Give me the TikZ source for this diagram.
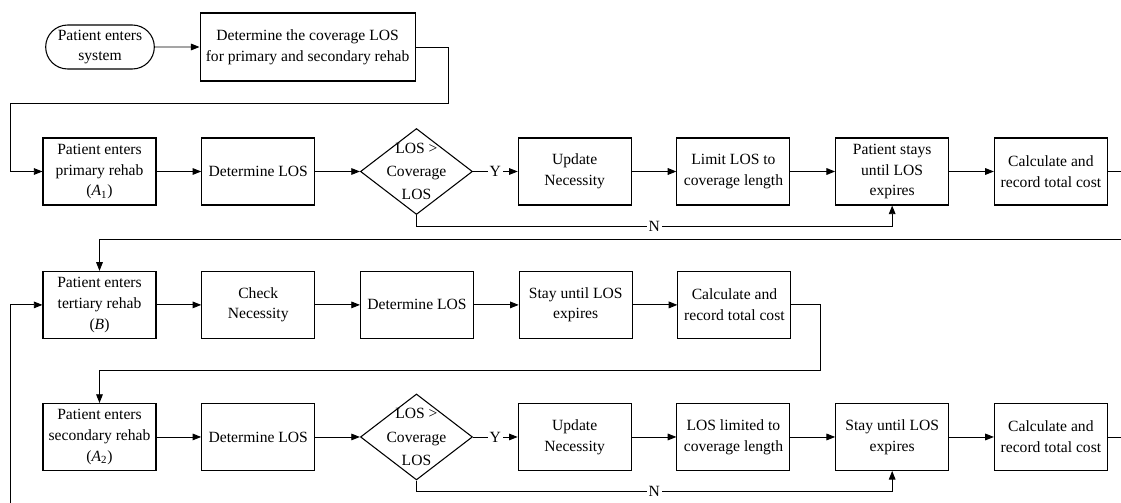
\documentclass[tikz,border=0pt]{standalone}
\usepackage{fontspec}
\setmainfont{Liberation Serif}
\usetikzlibrary{arrows.meta,positioning,shapes.geometric,shapes.misc}

\begin{document}
\begin{tikzpicture}[x=0.75pt,y=-0.75pt,
    node distance=33.5pt,
    font=\fontsize{11.7}{15.5}\selectfont,
    every node/.style={align=center},
    box/.style={rectangle,draw,line width=0.8pt,minimum width=84.75pt,minimum height=50.25pt,inner sep=2pt},
    term/.style={rounded rectangle,draw,line width=0.8pt,minimum width=85.5pt,minimum height=33pt,inner sep=2pt},
    decision/.style={diamond,draw,line width=0.8pt,minimum width=84pt,minimum height=64.5pt,inner sep=0pt},
    dtext/.style={font=\fontsize{11.7}{17.5}\selectfont,inner sep=0pt},
    lbl/.style={fill=white,inner sep=1.5pt},
    flow/.style={->,line width=0.7pt},
    >={Triangle[length=6.5pt,width=5pt]}]
\path[use as bounding box,clip] (0,0) rectangle (1121,503);

% entry
\node[term] (start) at (100,47) {Patient enters\\system};
\node[box,right=of start,minimum width=161.25pt,minimum height=51pt] (cov) {Determine the coverage LOS\\for primary and secondary rehab};

% primary rehab
\node[box] (pA1) at (99.5,171.5) {Patient enters\\primary rehab\\(\textit{A}\textsubscript{1})};
\node[box,right=of pA1] (detA1) {Determine LOS};
\node[decision,right=of detA1] (decA1) {};
\node[dtext] (txtA1) at (decA1) {LOS >\\Coverage\\LOS};
\node[box,right=of decA1] (updA1) {Update\\Necessity};
\node[box,right=of updA1] (limA1) {Limit LOS to\\coverage length};
\node[box,right=of limA1] (stayA1) {Patient stays\\until LOS\\expires};
\node[box,right=of stayA1] (calcA1) {Calculate and\\record total cost};

% tertiary rehab
\node[box,below=49pt of pA1] (pB) {Patient enters\\tertiary rehab\\(\textit{B})};
\node[box,right=of pB] (chkB) {Check\\Necessity};
\node[box,right=of chkB] (detB) {Determine LOS};
\node[box,right=of detB] (stayB) {Stay until LOS\\expires};
\node[box,right=of stayB] (calcB) {Calculate and\\record total cost};

% secondary rehab
\node[box,below=48pt of pB] (pA2) {Patient enters\\secondary rehab\\(\textit{A}\textsubscript{2})};
\node[box,right=of pA2] (detA2) {Determine LOS};
\node[decision,right=of detA2] (decA2) {};
\node[dtext] (txtA2) at (decA2) {LOS >\\Coverage\\LOS};
\node[box,right=of decA2] (updA2) {Update\\Necessity};
\node[box,right=of updA2] (limA2) {LOS limited to\\coverage length};
\node[box,right=of limA2] (stayA2) {Stay until LOS\\expires};
\node[box,right=of stayA2] (calcA2) {Calculate and\\record total cost};

\coordinate (upA) at (448,103);
\coordinate (lfA) at (10,103);
\coordinate (rtA) at (1140,239);
\coordinate (rtB) at (820,370);
\coordinate (rtC) at (1140,520);
\coordinate (lfC) at (10,520);

\draw[flow] (start) -- (cov);
\draw[flow] (cov.east) -| (upA) -- (lfA) |- (pA1.west);

\draw[flow] (pA1) -- (detA1);
\draw[flow] (detA1) -- (decA1);
\draw[flow] (decA1) -- node[lbl] (yA1) {Y} (updA1);
\draw[flow] (updA1) -- (limA1);
\draw[flow] (limA1) -- (stayA1);
\draw[flow] (stayA1) -- (calcA1);
\draw[flow] (decA1.south) -- ++(0,11) -| node[lbl,pos=0.25] (nA1) {N} (stayA1.south);
\draw[flow] (calcA1.east) -| (rtA) -| (pB.north);

\draw[flow] (pB) -- (chkB);
\draw[flow] (chkB) -- (detB);
\draw[flow] (detB) -- (stayB);
\draw[flow] (stayB) -- (calcB);
\draw[flow] (calcB.east) -| (rtB) -| (pA2.north);

\draw[flow] (pA2) -- (detA2);
\draw[flow] (detA2) -- (decA2);
\draw[flow] (decA2) -- node[lbl] (yA2) {Y} (updA2);
\draw[flow] (updA2) -- (limA2);
\draw[flow] (limA2) -- (stayA2);
\draw[flow] (stayA2) -- (calcA2);
\draw[flow] (decA2.south) -- ++(0,11) -| node[lbl,pos=0.25] (nA2) {N} (stayA2.south);
\draw[flow] (calcA2.east) -| (rtC) -- (lfC) |- (pB.west);

\end{tikzpicture}
\end{document}
